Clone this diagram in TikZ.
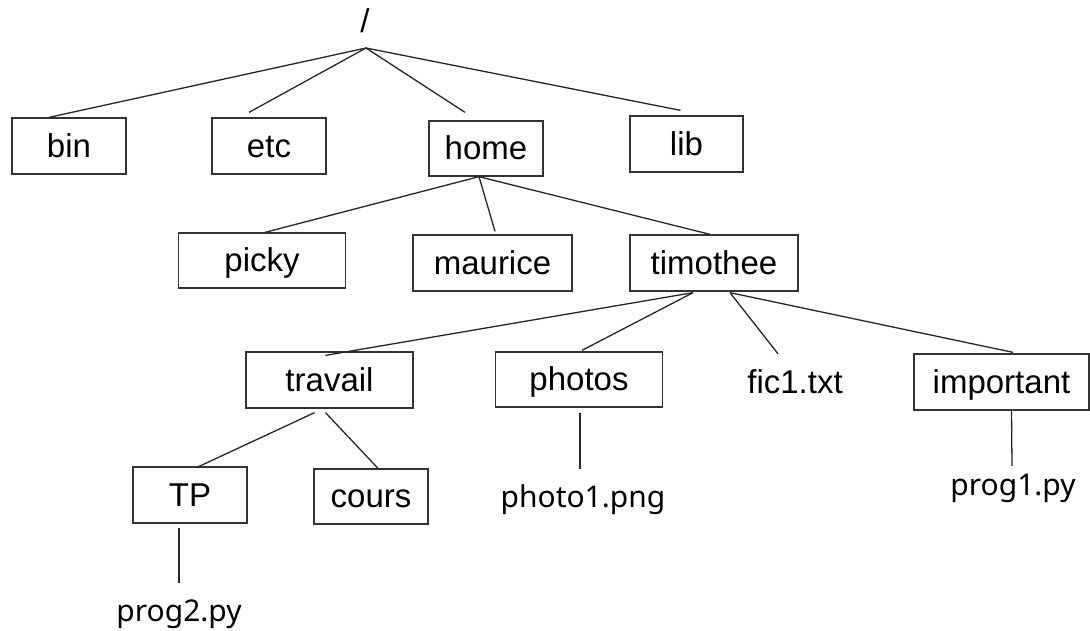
\documentclass[tikz,border=0pt]{standalone}
\usepackage{fontspec}
\setmainfont{Liberation Sans}
\newfontfamily\filefont{Noto Sans}
\usepackage{tikz}

\tikzset{
  dirbox/.style={draw=black!80, line width=1.3pt, inner sep=0pt,
    font=\fontsize{33}{38}\selectfont, text height=22pt, text depth=0pt},
  dirname/.style={inner sep=0pt, font=\fontsize{33}{38}\selectfont,
    text height=22pt, text depth=7pt, anchor=base},
  filename/.style={inner sep=0pt, font=\filefont\fontsize{30}{35}\selectfont,
    text height=22pt, text depth=7pt, anchor=base},
  link/.style={draw=black!85, line width=1.3pt}
}

\begin{document}
\begin{tikzpicture}[x=1pt, y=-1pt]
      \useasboundingbox (0,0) rectangle (1090,630);

      % Define the root and the fork point under it
      \node[dirname] (root) at (365,32) {/};
      \coordinate (rootfork) at (366,48);

      % Draw the first level
      \node[dirbox, minimum width=114, minimum height=56] (bin) at (69,146) {bin};
      \node[dirbox, minimum width=114, minimum height=56] (etc) at (269,146) {etc};
      \node[dirbox, minimum width=114, minimum height=55] (home) at (486,148.5) {home};
      \node[dirbox, minimum width=113, minimum height=56] (lib) at (686.5,144) {lib};

      % Draw the users
      \node[dirbox, minimum width=167, minimum height=55] (picky) at (262,260.5) {picky};
      \node[dirbox, minimum width=159, minimum height=56] (maurice) at (492.5,263) {maurice};
      \node[dirbox, minimum width=168, minimum height=56] (timothee) at (714,263) {timothee};

      % Draw the content of timothee
      \node[dirbox, minimum width=167, minimum height=56] (travail) at (329.5,380) {travail};
      \node[dirbox, minimum width=167, minimum height=55] (photos) at (579,379.5) {photos};
      \node[dirname] (fic1) at (795,393) {fic1.txt};
      \node[dirbox, minimum width=175, minimum height=56] (important) at (1001.5,382) {important};

      % Draw the last level
      \node[dirbox, minimum width=114, minimum height=56] (TP) at (190,495) {TP};
      \node[dirbox, minimum width=114, minimum height=55] (cours) at (371,496.5) {cours};
      \node[filename] (photo1) at (583,507) {photo1.png};
      \node[filename] (prog1) at (1013,495) {prog1.py};
      \node[filename] (prog2) at (179,621) {prog2.py};

      % Connect root
      \draw[link] (rootfork) -- ([xshift=-20pt]bin.north);
      \draw[link] (rootfork) -- ([xshift=-20pt,yshift=5pt]etc.north);
      \draw[link] (rootfork) -- ([xshift=-21pt,yshift=8pt]home.north);
      \draw[link] (rootfork) -- ([xshift=-6pt,yshift=5pt]lib.north);

      % Connect home
      \draw[link] ([xshift=-7pt]home.south) -- ([xshift=3pt]picky.north);
      \draw[link] ([xshift=-7pt]home.south) -- ([xshift=2.5pt,yshift=3pt]maurice.north);
      \draw[link] ([xshift=-7pt]home.south) -- ([xshift=-4pt]timothee.north);

      % Connect timothee
      \draw[link] ([xshift=-21pt,yshift=-1pt]timothee.south) -- ([xshift=-4pt,yshift=-4pt]travail.north);
      \draw[link] ([xshift=-21pt,yshift=-1pt]timothee.south) -- ([xshift=3pt,yshift=1pt]photos.north);
      \draw[link] ([xshift=16pt,yshift=-1pt]timothee.south) -- ([xshift=-17pt,yshift=17pt]fic1.north);
      \draw[link] ([xshift=16pt,yshift=-1pt]timothee.south) -- ([xshift=11.5pt,yshift=1pt]important.north);

      % Connect travail, photos, important and TP
      \draw[link] ([xshift=-15pt,yshift=-4pt]travail.south) -- ([xshift=7pt,yshift=-1pt]TP.north);
      \draw[link] ([xshift=-4pt,yshift=-4pt]travail.south) -- ([xshift=7pt]cours.north);
      \draw[link] ([xshift=1pt,yshift=-5pt]photos.south) -- ([xshift=-3pt,yshift=16pt]photo1.north);
      \draw[link] ([xshift=10pt]important.south) -- ([xshift=-1pt,yshift=7pt]prog1.north);
      \draw[link] ([xshift=-11pt,yshift=-4pt]TP.south) -- ([yshift=16pt]prog2.north);
    \end{tikzpicture}
\end{document}
